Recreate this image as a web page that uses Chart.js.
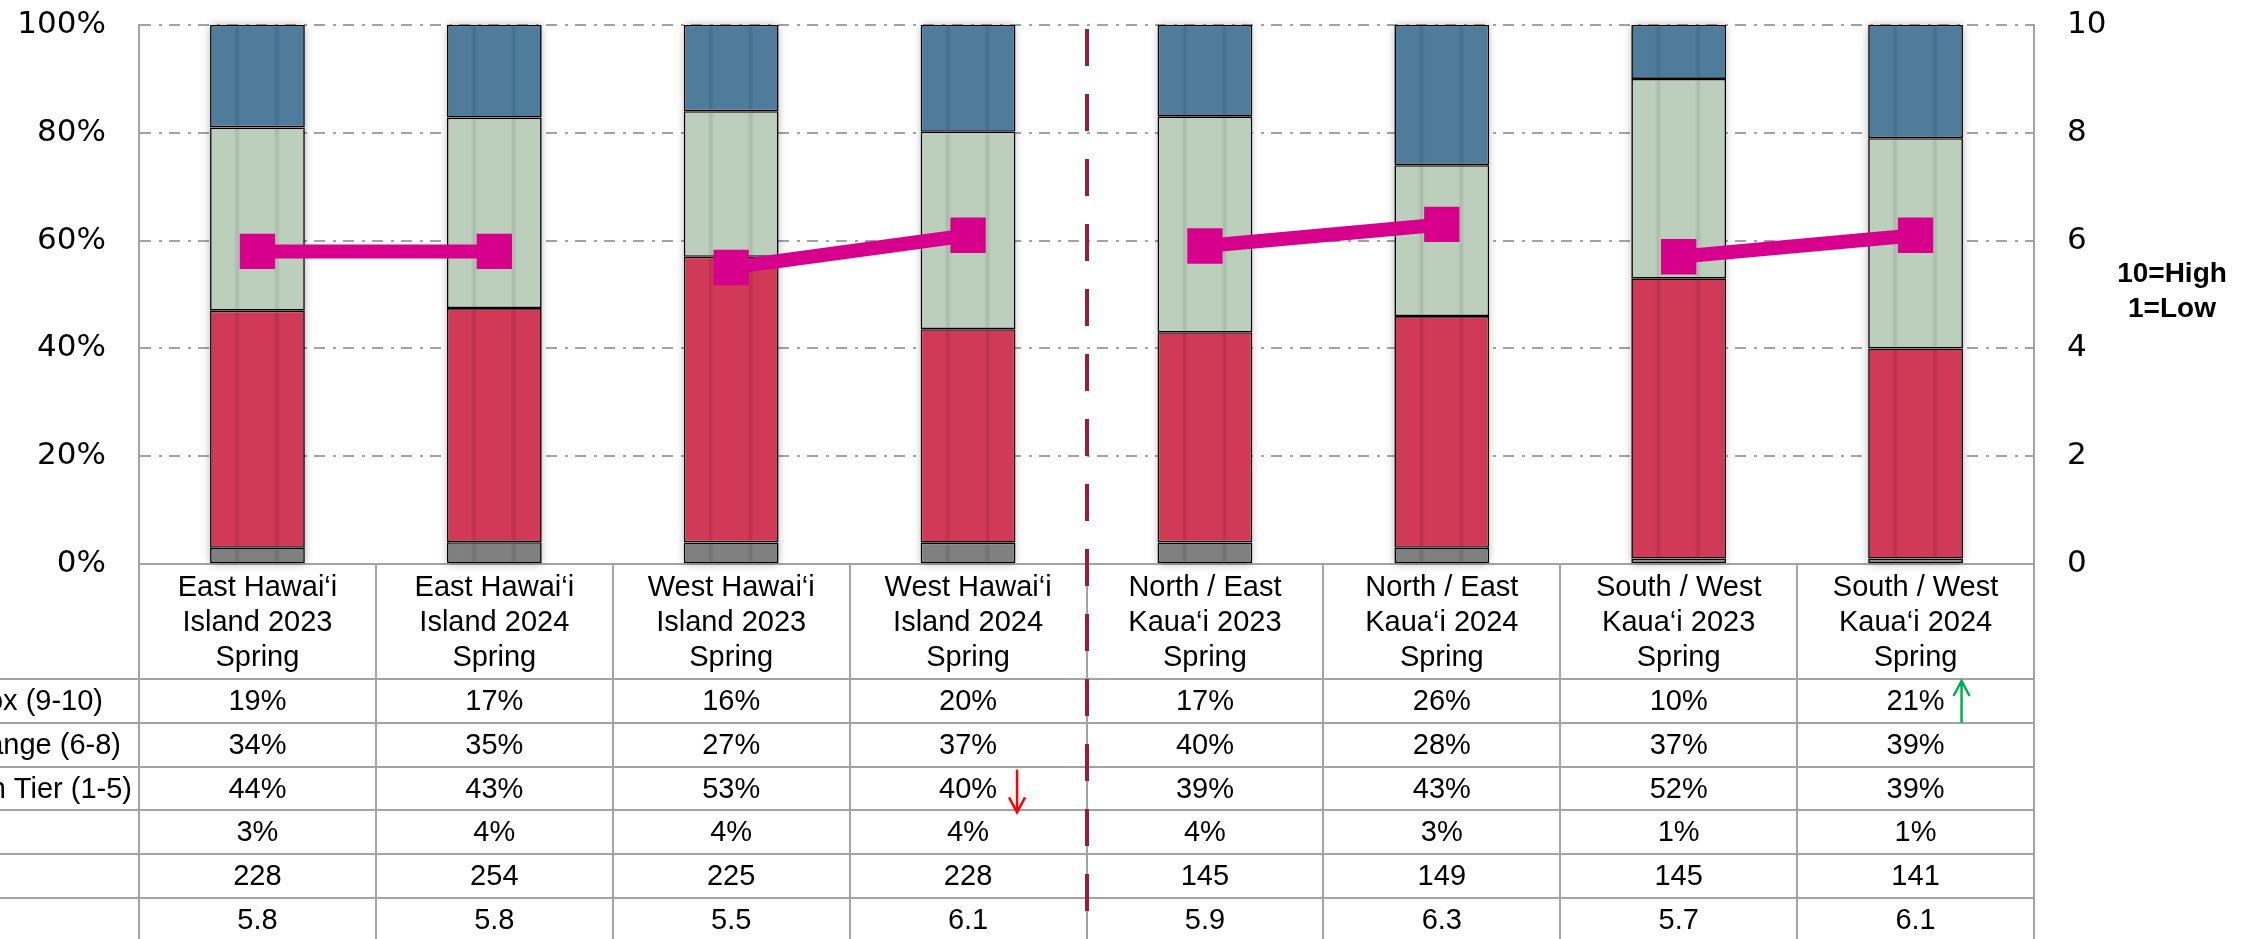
<!DOCTYPE html>
<html>
<head>
<meta charset="utf-8">
<style>
html,body{margin:0;padding:0;background:#fff;}
#wrap{width:2254px;height:939px;position:relative;}
</style>
<script src="https://cdn.jsdelivr.net/npm/chart.js@4.4.1/dist/chart.umd.min.js"></script>
</head>
<body>
<div id="wrap"><canvas id="c" width="2254" height="939"></canvas></div>
<script>
// ---------- DATA ----------
const categories = [
  ["East Hawai‘i", "Island 2023", "Spring"],
  ["East Hawai‘i", "Island 2024", "Spring"],
  ["West Hawai‘i", "Island 2023", "Spring"],
  ["West Hawai‘i", "Island 2024", "Spring"],
  ["North / East", "Kaua‘i 2023", "Spring"],
  ["North / East", "Kaua‘i 2024", "Spring"],
  ["South / West", "Kaua‘i 2023", "Spring"],
  ["South / West", "Kaua‘i 2024", "Spring"]
];
const topBox     = [19, 17, 16, 20, 17, 26, 10, 21];
const midRange   = [34, 35, 27, 37, 40, 28, 37, 39];
const bottomTier = [44, 43, 53, 40, 39, 43, 52, 39];
const dontKnow   = [3, 4, 4, 4, 4, 3, 1, 1];
const sampleN    = [228, 254, 225, 228, 145, 149, 145, 141];
const meanScore  = [5.8, 5.8, 5.5, 6.1, 5.9, 6.3, 5.7, 6.1];
const rowLabels  = ["ox (9-10)", "ange (6-8)", "n Tier (1-5)", "", "", ""];
const leftTicks  = [0, 20, 40, 60, 80, 100];
const rightTicks = [0, 2, 4, 6, 8, 10];
const scaleNote  = ["10=High", "1=Low"];

// 100% stacked: each column's shares are scaled to add up to 100
const totals = categories.map((_, i) => topBox[i] + midRange[i] + bottomTier[i] + dontKnow[i]);
const share = arr => arr.map((v, i) => v / totals[i] * 100);

// ---------- STYLE ----------
const COLORS = {
  gray:  ["#808080", "#707070"],
  red:   ["#D13A57", "#B9304C"],
  green: ["#BCCFBC", "#A7BBA8"],
  blue:  ["#4F7C9B", "#436F8C"]
};
const MAGENTA = "#D6008C";
const TABLE_FONT = '29px "Liberation Sans", Arial, sans-serif';
const BAR_FRACTION = 0.4;

function bandFill(pair) {
  return function (ctx) {
    const chart = ctx.chart;
    const xs = chart.scales && chart.scales.x;
    if (!xs || ctx.type !== 'data' || !chart.chartArea) return pair[0];
    const cx = xs.getPixelForValue(ctx.dataIndex);
    const step = xs.getPixelForValue(1) - xs.getPixelForValue(0);
    const bw = step * BAR_FRACTION;
    const g = chart.ctx.createLinearGradient(cx - bw / 2, 0, cx + bw / 2, 0);
    g.addColorStop(0, pair[0]);
    g.addColorStop(0.25, pair[0]);
    g.addColorStop(0.285, pair[1]);
    g.addColorStop(0.32, pair[0]);
    g.addColorStop(0.67, pair[0]);
    g.addColorStop(0.705, pair[1]);
    g.addColorStop(0.74, pair[0]);
    g.addColorStop(1, pair[0]);
    return g;
  };
}

const barCommon = {
  type: 'bar',
  yAxisID: 'y',
  borderColor: '#000000',
  borderWidth: 1.6,
  borderSkipped: false,
  barPercentage: BAR_FRACTION,
  categoryPercentage: 1.0,
  order: 1
};

const shadowPlugin = {
  id: 'shadowPlugin',
  beforeDatasetsDraw(chart) {
    const ctx = chart.ctx;
    const xs = chart.scales.x, ys = chart.scales.y;
    const step = xs.getPixelForValue(1) - xs.getPixelForValue(0);
    const bw = step * BAR_FRACTION;
    ctx.save();
    ctx.shadowColor = 'rgba(0,0,0,0.35)';
    ctx.shadowBlur = 9;
    ctx.fillStyle = '#ffffff';
    categories.forEach((_, i) => {
      const cx = xs.getPixelForValue(i);
      const top = ys.getPixelForValue(100), bot = ys.getPixelForValue(0);
      ctx.fillRect(cx - bw / 2 + 1, top + 1, bw - 2, bot - top - 2);
    });
    ctx.restore();
  }
};

const tablePlugin = {
  id: 'tablePlugin',
  afterDraw(chart) {
    const ctx = chart.ctx;
    const ca = chart.chartArea;
    const xs = chart.scales.x;
    const H = chart.height;
    const step = xs.getPixelForValue(1) - xs.getPixelForValue(0);
    const headerBottom = ca.bottom + 115;
    const rowH = 43.8;
    ctx.save();
    // table grid
    ctx.strokeStyle = '#A3A3A3';
    ctx.lineWidth = 2;
    ctx.setLineDash([]);
    for (let r = 0; r <= 6; r++) {
      const y = Math.round(headerBottom + r * rowH);
      ctx.beginPath(); ctx.moveTo(0, y); ctx.lineTo(ca.right, y); ctx.stroke();
    }
    for (let i = 0; i <= categories.length; i++) {
      const x = Math.round(xs.getPixelForValue(0) - step / 2 + i * step);
      ctx.beginPath(); ctx.moveTo(x, ca.bottom); ctx.lineTo(x, H); ctx.stroke();
    }
    // table values
    const rows = [
      topBox.map(v => v + '%'),
      midRange.map(v => v + '%'),
      bottomTier.map(v => v + '%'),
      dontKnow.map(v => v + '%'),
      sampleN.map(v => String(v)),
      meanScore.map(v => v.toFixed(1))
    ];
    ctx.fillStyle = '#000';
    ctx.font = TABLE_FONT;
    ctx.textAlign = 'center';
    ctx.textBaseline = 'middle';
    rows.forEach((row, r) => {
      const y = headerBottom + r * rowH + rowH / 2 + 1;
      row.forEach((txt, i) => {
        ctx.fillText(txt, xs.getPixelForValue(i), y);
      });
    });
    // row labels (cut at the left edge in the original)
    const labelRight = [103, 121, 132];
    ctx.textAlign = 'right';
    rowLabels.forEach((lab, r) => {
      if (!lab) return;
      ctx.fillText(lab, labelRight[r], headerBottom + r * rowH + rowH / 2 + 1);
    });
    // arrows
    function arrow(x, yTail, yTip, color) {
      ctx.strokeStyle = color;
      ctx.lineWidth = 2.5;
      ctx.beginPath();
      ctx.moveTo(x, yTail); ctx.lineTo(x, yTip);
      const d = yTip > yTail ? -1 : 1;
      ctx.moveTo(x - 8, yTip + d * 15); ctx.lineTo(x, yTip); ctx.lineTo(x + 8, yTip + d * 15);
      ctx.stroke();
    }
    arrow(xs.getPixelForValue(3) + 49, headerBottom + 2 * rowH + 3, headerBottom + 3 * rowH + 2, '#FF0000');
    arrow(xs.getPixelForValue(7) + 46, headerBottom + rowH, headerBottom + 2, '#00B050');
    // divider
    const dx = Math.round((xs.getPixelForValue(3) + xs.getPixelForValue(4)) / 2);
    ctx.strokeStyle = '#951E3B';
    ctx.lineWidth = 4;
    ctx.setLineDash([37, 28]);
    ctx.beginPath(); ctx.moveTo(dx, ca.top + 4); ctx.lineTo(dx, H); ctx.stroke();
    ctx.setLineDash([]);
    // scale note
    ctx.fillStyle = '#000';
    ctx.font = 'bold 28px "Liberation Sans", Arial, sans-serif';
    ctx.textAlign = 'center';
    ctx.textBaseline = 'middle';
    const nx = ca.right + 138;
    const ny = chart.scales.y1.getPixelForValue(5);
    ctx.fillText(scaleNote[0], nx, ny - 20);
    ctx.fillText(scaleNote[1], nx, ny + 15);
    ctx.restore();
  }
};

function noPad(s) {
  s.paddingTop = 0; s.paddingBottom = 0; s.paddingLeft = 0; s.paddingRight = 0;
}

const chart = new Chart(document.getElementById('c'), {
  data: {
    labels: categories,
    datasets: [
      Object.assign({ label: "Don't know", data: share(dontKnow), backgroundColor: bandFill(COLORS.gray) }, barCommon),
      Object.assign({ label: 'Bottom Tier (1-5)', data: share(bottomTier), backgroundColor: bandFill(COLORS.red) }, barCommon),
      Object.assign({ label: 'Mid Range (6-8)', data: share(midRange), backgroundColor: bandFill(COLORS.green) }, barCommon),
      Object.assign({ label: 'Top Box (9-10)', data: share(topBox), backgroundColor: bandFill(COLORS.blue) }, barCommon),
      {
        type: 'line',
        label: 'Mean',
        data: meanScore,
        yAxisID: 'y1',
        borderColor: MAGENTA,
        borderWidth: 14,
        borderCapStyle: 'butt',
        backgroundColor: MAGENTA,
        pointStyle: 'rect',
        pointRadius: 25,
        pointHoverRadius: 25,
        pointBorderWidth: 0,
        pointBackgroundColor: MAGENTA,
        fill: false,
        tension: 0,
        order: 0,
        segment: {
          borderColor: c => (c.p0DataIndex % 2 === 1 ? 'rgba(0,0,0,0)' : MAGENTA)
        }
      }
    ]
  },
  options: {
    responsive: false,
    animation: false,
    devicePixelRatio: 1,
    layout: { padding: { top: 23, left: 0, right: 0, bottom: 0 } },
    plugins: { legend: { display: false }, tooltip: { enabled: false } },
    scales: {
      x: {
        stacked: true,
        grid: { display: false, drawTicks: false },
        border: { display: true, color: '#A3A3A3', width: 2 },
        ticks: {
          autoSkip: false,
          maxRotation: 0,
          minRotation: 0,
          padding: 6,
          color: '#000',
          font: { family: '"Liberation Sans", Arial, sans-serif', size: 29, lineHeight: '35px' }
        },
        afterFit: s => { s.height = 375; noPad(s); }
      },
      y: {
        stacked: true,
        position: 'left',
        min: 0,
        max: 100,
        afterBuildTicks: s => { s.ticks = leftTicks.map(v => ({ value: v })); },
        grid: {
          drawTicks: false,
          color: c => (c.tick && c.tick.value === 0 ? 'rgba(0,0,0,0)' : '#A3A3A3'),
          lineWidth: 2
        },
        border: { display: true, color: '#A3A3A3', width: 2, dash: [11, 8, 3, 7] },
        ticks: {
          padding: 33,
          color: '#000',
          font: { family: '"DejaVu Sans", sans-serif', size: 31 },
          callback: v => v + '%'
        },
        afterFit: s => { s.width = 139; noPad(s); }
      },
      y1: {
        position: 'right',
        min: 0,
        max: 10,
        afterBuildTicks: s => { s.ticks = rightTicks.map(v => ({ value: v })); },
        grid: { drawOnChartArea: false, drawTicks: false },
        border: { display: true, color: '#A3A3A3', width: 2 },
        ticks: {
          padding: 33,
          color: '#000',
          font: { family: '"DejaVu Sans", sans-serif', size: 31 },
          callback: v => String(v)
        },
        afterFit: s => { s.width = 220; noPad(s); }
      }
    }
  },
  plugins: [shadowPlugin, tablePlugin]
});
</script>
</body>
</html>
